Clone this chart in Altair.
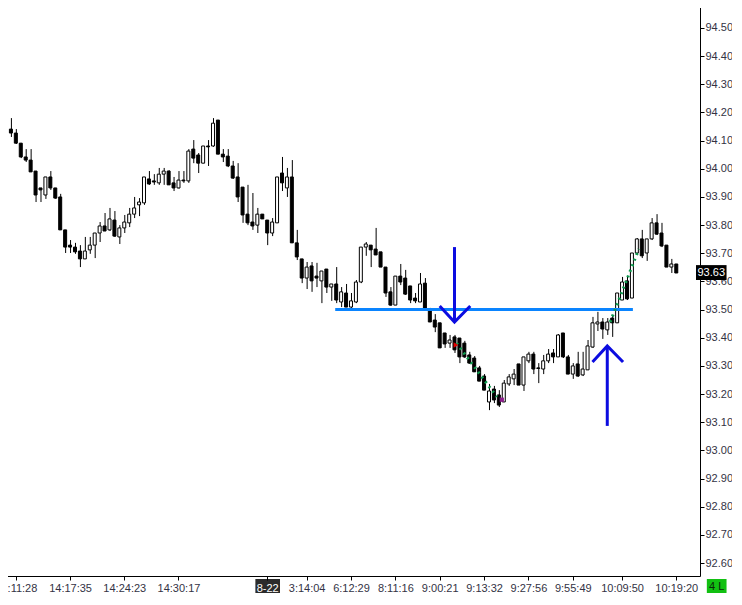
import altair as alt
import pandas as pd

# ---------------- data ----------------
opens = [94.219, 94.141, 94.127, 94.091, 94.042, 94.031, 93.992, 93.932, 93.907, 93.971,
         93.932, 93.900, 93.783, 93.729, 93.722, 93.708, 93.680, 93.712, 93.729, 93.772,
         93.797, 93.783, 93.818, 93.758, 93.790, 93.808, 93.839, 93.872, 93.879, 93.964,
         93.957, 93.950, 93.981, 93.992, 93.950, 93.932, 93.960, 93.957, 94.070, 94.049,
         94.020, 94.081, 94.081, 94.173, 94.052, 94.045, 94.010, 93.971, 93.935, 93.839,
         93.811, 93.800, 93.839, 93.818, 93.772, 93.808, 93.985, 93.932, 93.971, 93.737,
         93.680, 93.612, 93.655, 93.619, 93.602, 93.644, 93.580, 93.591, 93.527, 93.559,
         93.509, 93.527, 93.598, 93.722, 93.729, 93.715, 93.705, 93.651, 93.563, 93.516,
         93.619, 93.612, 93.584, 93.541, 93.527, 93.594, 93.499, 93.463, 93.453, 93.417,
         93.381, 93.403, 93.399, 93.381, 93.339, 93.328, 93.293, 93.264, 93.172, 93.218,
         93.197, 93.172, 93.236, 93.254, 93.307, 93.232, 93.318, 93.342, 93.293, 93.289,
         93.318, 93.346, 93.332, 93.417, 93.332, 93.271, 93.307, 93.268, 93.286, 93.367,
         93.449, 93.456, 93.428, 93.470, 93.453, 93.534, 93.602, 93.541, 93.701, 93.751,
         93.701, 93.751, 93.808, 93.772, 93.729, 93.651, 93.662]
highs = [94.230, 94.180, 94.141, 94.091, 94.070, 94.070, 93.992, 93.932, 93.971, 93.992,
         93.932, 93.911, 93.783, 93.747, 93.737, 93.729, 93.758, 93.758, 93.772, 93.811,
         93.843, 93.861, 93.850, 93.800, 93.836, 93.861, 93.900, 93.896, 93.971, 93.992,
         93.981, 94.003, 94.003, 93.995, 93.971, 93.992, 93.992, 94.070, 94.102, 94.056,
         94.081, 94.102, 94.180, 94.173, 94.070, 94.070, 94.028, 94.020, 93.935, 93.943,
         93.914, 93.861, 93.839, 93.818, 93.825, 93.971, 94.042, 94.003, 94.031, 93.783,
         93.680, 93.669, 93.669, 93.666, 93.637, 93.644, 93.591, 93.651, 93.580, 93.591,
         93.559, 93.605, 93.722, 93.740, 93.729, 93.790, 93.705, 93.651, 93.580, 93.619,
         93.662, 93.641, 93.584, 93.559, 93.630, 93.612, 93.506, 93.484, 93.453, 93.417,
         93.410, 93.410, 93.399, 93.389, 93.350, 93.335, 93.300, 93.271, 93.236, 93.229,
         93.214, 93.250, 93.271, 93.289, 93.307, 93.332, 93.350, 93.350, 93.310, 93.339,
         93.360, 93.360, 93.413, 93.417, 93.339, 93.310, 93.350, 93.350, 93.392, 93.474,
         93.492, 93.470, 93.470, 93.477, 93.559, 93.616, 93.616, 93.701, 93.754, 93.783,
         93.751, 93.825, 93.839, 93.808, 93.729, 93.680, 93.662]
lows = [94.138, 94.113, 94.088, 94.038, 94.024, 93.989, 93.882, 93.882, 93.893, 93.925,
        93.893, 93.783, 93.701, 93.701, 93.698, 93.651, 93.680, 93.698, 93.683, 93.740,
        93.779, 93.779, 93.758, 93.733, 93.772, 93.793, 93.825, 93.832, 93.872, 93.943,
        93.943, 93.943, 93.943, 93.943, 93.921, 93.930, 93.950, 93.950, 94.020, 93.985,
        94.020, 94.010, 94.078, 94.052, 94.024, 94.006, 93.964, 93.882, 93.808, 93.800,
        93.783, 93.772, 93.822, 93.729, 93.761, 93.808, 93.921, 93.900, 93.737, 93.676,
        93.594, 93.573, 93.563, 93.580, 93.523, 93.559, 93.531, 93.523, 93.509, 93.509,
        93.506, 93.523, 93.594, 93.691, 93.651, 93.694, 93.651, 93.545, 93.513, 93.516,
        93.587, 93.552, 93.523, 93.523, 93.527, 93.499, 93.456, 93.420, 93.364, 93.364,
        93.364, 93.346, 93.310, 93.328, 93.307, 93.279, 93.246, 93.214, 93.143, 93.168,
        93.154, 93.172, 93.229, 93.232, 93.232, 93.211, 93.310, 93.271, 93.239, 93.271,
        93.310, 93.310, 93.332, 93.328, 93.271, 93.254, 93.261, 93.264, 93.286, 93.364,
        93.424, 93.396, 93.410, 93.403, 93.453, 93.534, 93.534, 93.541, 93.694, 93.683,
        93.673, 93.747, 93.765, 93.722, 93.651, 93.630, 93.630]
closes = [94.141, 94.127, 94.091, 94.042, 94.031, 93.989, 93.907, 93.925, 93.971, 93.932,
          93.896, 93.783, 93.722, 93.722, 93.705, 93.680, 93.708, 93.729, 93.772, 93.797,
          93.779, 93.822, 93.761, 93.790, 93.811, 93.839, 93.861, 93.882, 93.971, 93.946,
          93.953, 93.981, 93.992, 93.943, 93.932, 93.960, 93.957, 94.063, 94.038, 94.020,
          94.081, 94.078, 94.162, 94.052, 94.042, 94.010, 93.967, 93.900, 93.836, 93.808,
          93.797, 93.839, 93.822, 93.772, 93.811, 93.971, 93.950, 93.971, 93.737, 93.687,
          93.612, 93.651, 93.602, 93.612, 93.637, 93.580, 93.591, 93.534, 93.563, 93.509,
          93.531, 93.598, 93.722, 93.733, 93.712, 93.694, 93.651, 93.559, 93.516, 93.619,
          93.598, 93.555, 93.534, 93.531, 93.591, 93.499, 93.456, 93.438, 93.364, 93.378,
          93.392, 93.357, 93.332, 93.332, 93.310, 93.279, 93.246, 93.214, 93.211, 93.179,
          93.161, 93.239, 93.261, 93.271, 93.232, 93.332, 93.342, 93.289, 93.291, 93.318,
          93.342, 93.332, 93.410, 93.332, 93.271, 93.300, 93.264, 93.289, 93.371, 93.453,
          93.456, 93.431, 93.456, 93.453, 93.559, 93.598, 93.538, 93.701, 93.751, 93.691,
          93.751, 93.808, 93.768, 93.726, 93.651, 93.662, 93.630]

tick_idx = [2, 13, 24, 35, 53, 61, 70, 79, 88, 97, 106, 115, 125, 136]
tick_labels = ["14:11:28", "14:17:35", "14:24:23", "14:30:17", "8-22", "3:14:04", "6:12:29",
               "8:11:16", "9:00:21", "9:13:32", "9:27:56", "9:55:49", "10:09:50", "10:19:20"]
y_ticks = [92.6, 92.7, 92.8, 92.9, 93.0, 93.1, 93.2, 93.3, 93.4, 93.5, 93.6, 93.7, 93.8,
           93.9, 94.0, 94.1, 94.2, 94.3, 94.4, 94.5, 94.6]

level_price = 93.50
level_from, level_to = 66.8, 127.2

# arrows (x in bar index, y in price)
arrow_x = [91, 91, 88, 91, 94.2, 122, 122, 119, 122, 125.2]
arrow_y = [93.722, 93.456, 93.513, 93.456, 93.513, 93.087, 93.371, 93.314, 93.371, 93.314]
arrow_seg = ["ds", "ds", "dh", "dh", "dh", "us", "us", "uh", "uh", "uh"]
arrow_ord = [0, 1, 0, 1, 2, 0, 1, 0, 1, 2]

# green dotted indicator segments
ind_x = [91.4, 99.6, 122.6, 128.4]
ind_y = [93.381, 93.190, 93.456, 93.715]
ind_seg = ["a", "a", "b", "b"]

last_price = 93.63

# ---------------- frames ----------------
df = pd.DataFrame({"i": list(range(len(opens))), "open": opens, "high": highs,
                   "low": lows, "close": closes})
df["dir"] = ["up" if c >= o else "down" for o, c in zip(opens, closes)]

W, H = 700, 576
xscale = alt.Scale(domain=[-0.2, 139.8], nice=False, zero=False)
yscale = alt.Scale(domain=[92.5540, 94.5994], nice=False, zero=False)

label_expr = "[" + ",".join("'%s'" % s for s in tick_labels) + "][indexof([" + \
    ",".join(str(v) for v in tick_idx) + "], datum.value)]"

xaxis = alt.Axis(values=tick_idx, labelExpr=label_expr, title=None, grid=False,
                 tickSize=4, labelPadding=2, labelOverlap=False, labelBound=False,
                 labelFlush=False, zindex=1,
                 labelColor={"condition": {"test": "datum.value == 53", "value": "white"},
                             "value": "#333344"})
yaxis = alt.Axis(orient="right", values=y_ticks, format=".2f", title=None, grid=False,
                 tickSize=4, labelPadding=1, labelOverlap=False, labelBound=False,
                 labelFlush=False, labelColor="#333344")


def X(f):
    return alt.X(f, scale=xscale, axis=xaxis)


def Y(f):
    return alt.Y(f, scale=yscale, axis=yaxis)


base = alt.Chart(df)
wicks = base.mark_rule(color="black", strokeWidth=1, xOffset=0.5, clip=True).encode(
    x=X("i:Q"), y=Y("low:Q"), y2="high:Q")
bodies = base.mark_bar(size=3, stroke="black", strokeWidth=1, clip=True,
                       orient="vertical").encode(
    x=X("i:Q"), y=Y("open:Q"), y2="close:Q",
    fill=alt.Fill("dir:N", scale=alt.Scale(domain=["up", "down"], range=["white", "black"]),
                  legend=None))

level = alt.Chart(pd.DataFrame({"a": [level_from], "b": [level_to], "p": [level_price]})) \
    .mark_rule(color="#0a84ff", strokeWidth=3).encode(x=X("a:Q"), x2="b:Q", y=Y("p:Q"))

ind = alt.Chart(pd.DataFrame({"x": ind_x, "y": ind_y, "s": ind_seg})).mark_line(
    color="#0f9a4e", strokeWidth=3, strokeDash=[2, 4]).encode(
    x=X("x:Q"), y=Y("y:Q"), detail="s:N")

red_mark = alt.Chart(pd.DataFrame({"x": [91.3], "y": [93.374]})).mark_point(
    shape="triangle-right", filled=True, color="#e00000", size=30, opacity=1).encode(
    x=X("x:Q"), y=Y("y:Q"))
purple_mark = alt.Chart(pd.DataFrame({"x": [100.6], "y": [93.180]})).mark_point(
    shape="square", filled=True, color="#8a1c8a", size=18, opacity=1).encode(
    x=X("x:Q"), y=Y("y:Q"))

arrows = alt.Chart(pd.DataFrame({"x": arrow_x, "y": arrow_y, "s": arrow_seg,
                                 "o": arrow_ord})).mark_line(
    color="#0c0ce0", strokeWidth=3, strokeJoin="miter").encode(
    x=X("x:Q"), y=Y("y:Q"), detail="s:N", order="o:Q")

# price tag on the right axis
tag = alt.Chart(pd.DataFrame({"a": [140.0], "b": [146.2], "p1": [93.605], "p2": [93.658],
                              "c": [143.1], "p": [last_price],
                              "t": ["%.2f" % last_price]}))
tag_box = tag.mark_rect(color="black", clip=False).encode(x=X("a:Q"), x2="b:Q",
                                                          y=Y("p1:Q"), y2="p2:Q")
tag_txt = tag.mark_text(color="white", font="Liberation Sans", fontSize=11,
                        baseline="middle", align="center", clip=False).encode(
    x=X("c:Q"), y=Y("p:Q"), text="t:N")

# date box behind the "8-22" label
date_box = alt.Chart(pd.DataFrame({"a": [50.6], "b": [55.6]})).mark_rect(
    color="#2b2b2b", clip=False).encode(x=X("a:Q"), x2="b:Q",
                                        y=alt.value(579), y2=alt.value(594))

# green "4 L" box bottom right
gl = alt.Chart(pd.DataFrame({"a": [142.2], "b": [146.2], "c": [144.2], "t": ["4 L"]}))
gl_box = gl.mark_rect(color="#12c012", clip=False).encode(
    x=X("a:Q"), x2="b:Q", y=alt.value(579), y2=alt.value(594))
gl_txt = gl.mark_text(color="#0a260a", font="Liberation Sans", fontSize=11,
                      baseline="middle", align="center", clip=False).encode(
    x=X("c:Q"), y=alt.value(587), text="t:N")

chart = alt.layer(wicks, bodies, level, ind, red_mark, purple_mark, arrows,
                  tag_box, tag_txt, date_box, gl_box, gl_txt).properties(
    width=W, height=H,
    autosize=alt.AutoSizeParams(type="none"),
    padding={"left": -8, "top": -8, "right": 32, "bottom": 17},
).configure_view(stroke=None).configure_axis(
    labelFont="Liberation Sans", labelFontSize=11, domainColor="black",
    tickColor="black", domainWidth=1, tickWidth=1)

chart.save("out.html", embed_options={"renderer": "svg", "actions": False})
